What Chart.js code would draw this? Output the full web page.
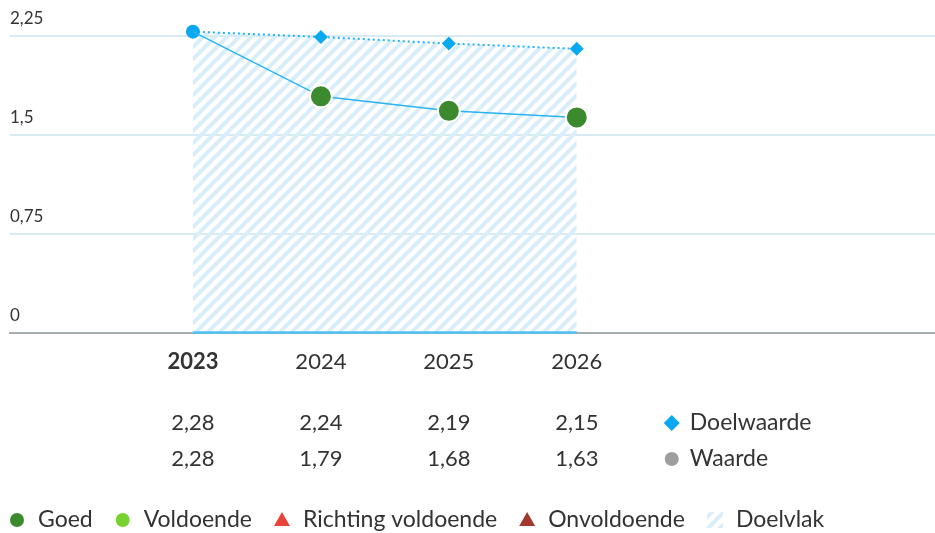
<!DOCTYPE html>
<html>
<head>
<meta charset="utf-8">
<script src="https://cdn.jsdelivr.net/npm/chart.js@4.4.1/dist/chart.umd.min.js"></script>
<style>
  html, body { margin: 0; padding: 0; background: #fff; overflow: hidden; }
  #wrap { width: 935px; height: 533px; }
  canvas { display: block; }
</style>
</head>
<body>
<div id="wrap"><canvas id="chart" width="935" height="533"></canvas></div>
<script>
const years = [2023, 2024, 2025, 2026];
const doelwaarde = [2.28, 2.24, 2.19, 2.15];
const waarde = [2.28, 1.79, 1.68, 1.63];
const yTicks = [0, 0.75, 1.5, 2.25];
const tableLabels = ['Doelwaarde', 'Waarde'];
const legendLabels = ['Goed', 'Voldoende', 'Richting voldoende', 'Onvoldoende', 'Doelvlak'];
const legendColors = ['#3b8a2e', '#76d131', '#e8443a', '#a3372f', null];
const legendShapes = ['circle', 'circle', 'triangle', 'triangle', 'hatch'];

const FONT = 'Lato, "Noto Sans", sans-serif';
const TEXT = '#333';

function fmt(v) {
    return String(v).replace('.', ',');
}

// diagonal stripes for the target area
function makeHatch() {
    const c = document.createElement('canvas');
    c.width = 12; c.height = 12;
    const g = c.getContext('2d');
    g.strokeStyle = '#d8eefb';
    g.lineWidth = 4;
    g.beginPath();
    g.moveTo(-6, 6); g.lineTo(6, -6);
    g.moveTo(0, 12); g.lineTo(12, 0);
    g.moveTo(6, 18); g.lineTo(18, 6);
    g.stroke();
    return document.getElementById('chart').getContext('2d').createPattern(c, 'repeat');
}
const hatch = makeHatch();

function drawMarker(ctx, shape, x, y, color) {
    ctx.save();
    if (shape === 'circle') {
        ctx.fillStyle = color;
        ctx.beginPath();
        ctx.arc(x, y, 7, 0, Math.PI * 2);
        ctx.fill();
    } else if (shape === 'triangle') {
        ctx.fillStyle = color;
        ctx.beginPath();
        ctx.moveTo(x, y - 8);
        ctx.lineTo(x + 8, y + 6);
        ctx.lineTo(x - 8, y + 6);
        ctx.closePath();
        ctx.fill();
    } else if (shape === 'diamond') {
        ctx.fillStyle = color;
        ctx.beginPath();
        ctx.moveTo(x, y - 8);
        ctx.lineTo(x + 8, y);
        ctx.lineTo(x, y + 8);
        ctx.lineTo(x - 8, y);
        ctx.closePath();
        ctx.fill();
    } else if (shape === 'hatch') {
        ctx.fillStyle = hatch;
        ctx.fillRect(x - 8, y - 8, 16, 16);
    }
    ctx.restore();
}

const tablePlugin = {
    id: 'tableAndLegend',
    afterDraw(chart) {
        const ctx = chart.ctx;
        const xs = chart.scales.x;
        ctx.save();
        ctx.fillStyle = TEXT;
        ctx.textBaseline = 'middle';

        const rows = [doelwaarde, waarde];
        const rowY = [423, 459];
        rows.forEach((row, r) => {
            ctx.font = '22px ' + FONT;
            ctx.textAlign = 'center';
            row.forEach((v, i) => {
                ctx.fillStyle = TEXT;
                ctx.fillText(fmt(v), xs.getPixelForValue(years[i]), rowY[r]);
            });
            const mx = xs.getPixelForValue(years[years.length - 1]) + 95;
            drawMarker(ctx, r === 0 ? 'diamond' : 'circle', mx, rowY[r], r === 0 ? '#0aa8f0' : '#9e9e9e');
            ctx.font = '23px ' + FONT;
            ctx.textAlign = 'left';
            ctx.fillStyle = TEXT;
            ctx.fillText(tableLabels[r], mx + 18, rowY[r]);
        });

        // bottom legend
        ctx.font = '23px ' + FONT;
        let x = 17;
        const ly = 520;
        ctx.textAlign = 'left';
        legendLabels.forEach((lab, i) => {
            drawMarker(ctx, legendShapes[i], x, ly, legendColors[i]);
            ctx.fillStyle = TEXT;
            ctx.fillText(lab, x + 21, ly);
            x += 21 + ctx.measureText(lab).width + 30;
        });
        ctx.restore();
    }
};

const ctx = document.getElementById('chart').getContext('2d');

new Chart(ctx, {
    type: 'line',
    data: {
        datasets: [
            {
                label: 'Doelwaarde',
                data: years.map((y, i) => ({ x: y, y: doelwaarde[i] })),
                borderColor: '#25b2f5',
                borderWidth: 2,
                borderDash: [2, 3],
                backgroundColor: hatch,
                fill: 'origin',
                pointStyle: years.map((y, i) => i === 0 ? 'circle' : 'rectRot'),
                pointRadius: 7,
                pointBackgroundColor: '#0aa8f0',
                pointBorderColor: '#0aa8f0',
                pointBorderWidth: 0,
                order: 3,
                clip: false
            },
            {
                label: 'Basis',
                data: years.map(y => ({ x: y, y: 0 })),
                borderColor: '#4fc3f7',
                borderWidth: 2.5,
                pointRadius: 0,
                fill: false,
                order: 2,
                clip: false
            },
            {
                label: 'Waarde',
                data: years.map((y, i) => ({ x: y, y: waarde[i] })),
                borderColor: '#29b3f2',
                borderWidth: 1.5,
                fill: false,
                pointRadius: years.map((y, i) => i === 0 ? 0 : 11),
                pointBackgroundColor: '#3b8a2e',
                pointBorderColor: '#fff',
                pointBorderWidth: 2,
                order: 1,
                clip: false
            }
        ]
    },
    options: {
        responsive: false,
        animation: false,
        layout: { autoPadding: false, padding: { left: 10, right: 0, top: 29, bottom: 142 } },
        scales: {
            x: {
                type: 'linear',
                min: 2021.57,
                max: 2028.8,
                afterBuildTicks: axis => { axis.ticks = years.map(v => ({ value: v })); },
                afterFit: axis => { axis.paddingLeft = 0; axis.paddingRight = 0; },
                grid: { display: false, drawTicks: false },
                border: { display: true, color: '#a6adb1', width: 2 },
                ticks: {
                    padding: 16,
                    color: '#333',
                    maxRotation: 0,
                    autoSkip: false,
                    callback: v => String(v),
                    font: c => ({ family: FONT, size: 22, weight: c.tick && c.tick.value === years[0] ? 'bold' : 'normal' })
                }
            },
            y: {
                min: 0,
                max: 2.3,
                afterBuildTicks: axis => { axis.ticks = yTicks.map(v => ({ value: v })); },
                afterFit: axis => { axis.width = 0; },
                grid: {
                    drawTicks: false,
                    lineWidth: 2,
                    color: c => c.tick && c.tick.value === 0 ? 'rgba(0,0,0,0)' : '#d9ebf2'
                },
                border: { display: false },
                ticks: {
                    mirror: true,
                    padding: 0,
                    labelOffset: -17,
                    color: '#333',
                    font: { family: FONT, size: 17 },
                    callback: v => fmt(v)
                }
            }
        },
        plugins: {
            legend: { display: false },
            tooltip: { enabled: false }
        }
    },
    plugins: [tablePlugin]
});
</script>
</body>
</html>
